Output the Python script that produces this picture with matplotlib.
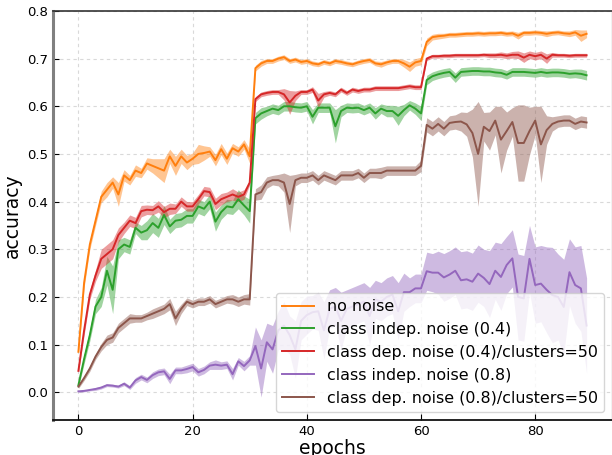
import numpy as np
import matplotlib
matplotlib.use("Agg")
import matplotlib.pyplot as plt

epochs = list(range(90))

no_noise_mean = [0.085, 0.23, 0.31, 0.36, 0.41, 0.425, 0.44, 0.415, 0.455, 0.445,
                 0.465, 0.46, 0.48, 0.475, 0.47, 0.465, 0.495, 0.475, 0.495, 0.482,
                 0.49, 0.50, 0.502, 0.505, 0.487, 0.51, 0.49, 0.512, 0.505, 0.52,
                 0.495, 0.68, 0.69, 0.695, 0.695, 0.70, 0.703, 0.695, 0.698, 0.693,
                 0.695, 0.69, 0.688, 0.693, 0.69, 0.695, 0.693, 0.69, 0.688, 0.692,
                 0.695, 0.697, 0.69, 0.688, 0.692, 0.695, 0.695, 0.69, 0.683, 0.692,
                 0.695, 0.735, 0.745, 0.747, 0.748, 0.75, 0.75, 0.751, 0.752, 0.752,
                 0.753, 0.752, 0.753, 0.753, 0.754, 0.752, 0.753, 0.748, 0.754, 0.754,
                 0.755, 0.754, 0.752, 0.754, 0.755, 0.753, 0.752, 0.755, 0.748, 0.752]
no_noise_std = [0.005, 0.01, 0.01, 0.01, 0.012, 0.015, 0.012, 0.025, 0.012, 0.01,
                0.012, 0.01, 0.012, 0.015, 0.02, 0.025, 0.015, 0.02, 0.015, 0.015,
                0.012, 0.02, 0.015, 0.01, 0.012, 0.012, 0.012, 0.01, 0.01, 0.01,
                0.015, 0.006, 0.006, 0.005, 0.005, 0.005, 0.005, 0.005, 0.005, 0.005,
                0.005, 0.005, 0.005, 0.005, 0.005, 0.005, 0.005, 0.005, 0.005, 0.005,
                0.005, 0.005, 0.005, 0.006, 0.005, 0.005, 0.005, 0.008, 0.01, 0.008,
                0.008, 0.008, 0.006, 0.006, 0.005, 0.005, 0.005, 0.005, 0.005, 0.005,
                0.005, 0.005, 0.005, 0.005, 0.005, 0.005, 0.005, 0.007, 0.005, 0.005,
                0.005, 0.005, 0.006, 0.005, 0.005, 0.005, 0.006, 0.006, 0.012, 0.008]

indep04_mean = [0.015, 0.07, 0.12, 0.18, 0.20, 0.255, 0.215, 0.30, 0.31, 0.305,
                0.345, 0.335, 0.34, 0.355, 0.345, 0.372, 0.348, 0.36, 0.362, 0.37,
                0.37, 0.39, 0.385, 0.40, 0.358, 0.378, 0.39, 0.388, 0.405, 0.392,
                0.38, 0.575, 0.585, 0.59, 0.595, 0.592, 0.60, 0.60, 0.598, 0.597,
                0.60, 0.578, 0.597, 0.597, 0.597, 0.558, 0.59, 0.597, 0.596, 0.597,
                0.592, 0.597, 0.585, 0.595, 0.59, 0.59, 0.58, 0.592, 0.602, 0.595,
                0.585, 0.655, 0.663, 0.667, 0.67, 0.672, 0.66, 0.672, 0.673, 0.674,
                0.674, 0.673, 0.673, 0.671, 0.67, 0.666, 0.672, 0.672, 0.672, 0.671,
                0.67, 0.672, 0.67, 0.671, 0.671, 0.67, 0.668, 0.669, 0.668, 0.665]
indep04_std = [0.005, 0.01, 0.012, 0.015, 0.02, 0.03, 0.05, 0.02, 0.015, 0.015,
               0.012, 0.015, 0.02, 0.02, 0.02, 0.02, 0.015, 0.015, 0.015, 0.015,
               0.015, 0.015, 0.015, 0.015, 0.02, 0.015, 0.015, 0.015, 0.02, 0.02,
               0.025, 0.012, 0.012, 0.01, 0.01, 0.01, 0.01, 0.01, 0.01, 0.01,
               0.01, 0.015, 0.01, 0.01, 0.01, 0.035, 0.012, 0.01, 0.01, 0.01,
               0.01, 0.01, 0.012, 0.01, 0.012, 0.012, 0.02, 0.012, 0.01, 0.012,
               0.015, 0.01, 0.009, 0.009, 0.009, 0.009, 0.01, 0.009, 0.009, 0.009,
               0.009, 0.009, 0.009, 0.009, 0.009, 0.009, 0.009, 0.009, 0.009, 0.009,
               0.009, 0.009, 0.009, 0.009, 0.009, 0.009, 0.009, 0.009, 0.01, 0.01]

dep04_mean = [0.045, 0.13, 0.205, 0.245, 0.28, 0.29, 0.30, 0.33, 0.345, 0.36,
              0.355, 0.38, 0.383, 0.382, 0.39, 0.378, 0.385, 0.385, 0.40, 0.39,
              0.39, 0.405, 0.422, 0.42, 0.395, 0.405, 0.41, 0.415, 0.41, 0.415,
              0.44, 0.615, 0.625, 0.628, 0.63, 0.63, 0.625, 0.608, 0.622, 0.63,
              0.63, 0.635, 0.612, 0.625, 0.628, 0.625, 0.635, 0.628, 0.635, 0.632,
              0.635, 0.635, 0.638, 0.638, 0.638, 0.638, 0.638, 0.64, 0.642, 0.64,
              0.64, 0.70, 0.705, 0.705, 0.706, 0.706, 0.707, 0.707, 0.707, 0.707,
              0.707, 0.708, 0.707, 0.707, 0.708, 0.706, 0.708, 0.708, 0.702, 0.708,
              0.705, 0.708, 0.70, 0.708, 0.707, 0.707, 0.706, 0.707, 0.707, 0.707]
dep04_std = [0.005, 0.01, 0.01, 0.012, 0.02, 0.02, 0.02, 0.015, 0.012, 0.012,
             0.012, 0.012, 0.01, 0.01, 0.012, 0.012, 0.012, 0.01, 0.01, 0.01,
             0.01, 0.01, 0.01, 0.01, 0.012, 0.012, 0.01, 0.012, 0.01, 0.01,
             0.005, 0.005, 0.005, 0.005, 0.005, 0.005, 0.012, 0.025, 0.01, 0.005,
             0.005, 0.006, 0.015, 0.006, 0.005, 0.005, 0.005, 0.005, 0.005, 0.005,
             0.005, 0.005, 0.005, 0.005, 0.005, 0.005, 0.005, 0.005, 0.005, 0.005,
             0.005, 0.004, 0.004, 0.004, 0.004, 0.004, 0.004, 0.004, 0.004, 0.004,
             0.004, 0.004, 0.005, 0.005, 0.006, 0.006, 0.007, 0.008, 0.01, 0.008,
             0.008, 0.008, 0.01, 0.005, 0.004, 0.004, 0.004, 0.004, 0.004, 0.004]

indep08_mean = [0.002, 0.003, 0.005, 0.007, 0.01, 0.015, 0.014, 0.012, 0.018, 0.01,
                0.025, 0.032, 0.026, 0.036, 0.042, 0.044, 0.028, 0.046, 0.046, 0.049,
                0.053, 0.042, 0.047, 0.056, 0.058, 0.056, 0.058, 0.038, 0.065, 0.055,
                0.067, 0.097, 0.05, 0.105, 0.09, 0.13, 0.14, 0.12, 0.09, 0.15,
                0.162, 0.168, 0.17, 0.13, 0.175, 0.18, 0.15, 0.175, 0.18, 0.185,
                0.19, 0.16, 0.195, 0.19, 0.20, 0.205, 0.17, 0.21, 0.21, 0.218,
                0.218, 0.254, 0.251, 0.251, 0.241, 0.247, 0.255, 0.235, 0.237, 0.232,
                0.249, 0.24, 0.227, 0.255, 0.242, 0.267, 0.281, 0.20, 0.197, 0.28,
                0.225, 0.228, 0.215, 0.204, 0.20, 0.179, 0.252, 0.225, 0.218, 0.14]
indep08_std = [0.002, 0.002, 0.002, 0.003, 0.003, 0.003, 0.003, 0.003, 0.004, 0.004,
               0.006, 0.006, 0.006, 0.007, 0.007, 0.007, 0.01, 0.007, 0.007, 0.008,
               0.008, 0.008, 0.008, 0.008, 0.01, 0.008, 0.008, 0.012, 0.008, 0.01,
               0.01, 0.04, 0.06, 0.04, 0.05, 0.04, 0.05, 0.04, 0.06, 0.04,
               0.04, 0.035, 0.04, 0.06, 0.04, 0.04, 0.06, 0.04, 0.04, 0.04,
               0.04, 0.06, 0.04, 0.04, 0.04, 0.04, 0.06, 0.04, 0.03, 0.03,
               0.03, 0.04, 0.04, 0.045, 0.05, 0.05, 0.05, 0.06, 0.06, 0.06,
               0.06, 0.06, 0.07, 0.06, 0.07, 0.06, 0.06, 0.09, 0.09, 0.07,
               0.08, 0.08, 0.09, 0.1, 0.09, 0.1, 0.07, 0.08, 0.09, 0.1]

dep08_mean = [0.012, 0.03, 0.05, 0.075, 0.095, 0.11, 0.115, 0.135, 0.145, 0.155,
              0.155, 0.155, 0.16, 0.165, 0.17, 0.175, 0.185, 0.155, 0.175, 0.19,
              0.185, 0.19, 0.19, 0.195, 0.185, 0.19, 0.195, 0.195, 0.19, 0.195,
              0.195, 0.415, 0.42, 0.44, 0.445, 0.445, 0.44, 0.395, 0.445, 0.45,
              0.45, 0.455, 0.445, 0.455, 0.45, 0.445, 0.455, 0.455, 0.455, 0.46,
              0.45, 0.46, 0.46, 0.46, 0.465, 0.465, 0.465, 0.465, 0.465, 0.465,
              0.475, 0.561, 0.553, 0.563, 0.553, 0.565, 0.567, 0.568, 0.562, 0.544,
              0.50, 0.557, 0.548, 0.57, 0.53, 0.548, 0.567, 0.523, 0.523, 0.548,
              0.57, 0.52, 0.55, 0.563, 0.568, 0.57, 0.57, 0.563, 0.568, 0.566]
dep08_std = [0.004, 0.005, 0.006, 0.006, 0.008, 0.01, 0.01, 0.01, 0.01, 0.01,
             0.008, 0.008, 0.008, 0.01, 0.01, 0.01, 0.012, 0.015, 0.01, 0.008,
             0.008, 0.008, 0.008, 0.008, 0.008, 0.008, 0.008, 0.01, 0.01, 0.01,
             0.012, 0.012, 0.015, 0.012, 0.01, 0.012, 0.02, 0.06, 0.012, 0.01,
             0.01, 0.01, 0.01, 0.01, 0.01, 0.01, 0.01, 0.01, 0.01, 0.01,
             0.01, 0.01, 0.01, 0.012, 0.01, 0.01, 0.01, 0.01, 0.01, 0.01,
             0.012, 0.015, 0.015, 0.015, 0.015, 0.015, 0.015, 0.02, 0.025, 0.05,
             0.11, 0.03, 0.04, 0.03, 0.07, 0.04, 0.03, 0.08, 0.08, 0.05,
             0.03, 0.08, 0.03, 0.015, 0.012, 0.012, 0.012, 0.012, 0.012, 0.012]

labels = ["no noise", "class indep. noise (0.4)", "class dep. noise (0.4)/clusters=50",
          "class indep. noise (0.8)", "class dep. noise (0.8)/clusters=50"]
colors = ["tab:orange", "tab:green", "tab:red", "tab:purple", "tab:brown"]
means = [no_noise_mean, indep04_mean, dep04_mean, indep08_mean, dep08_mean]
stds = [no_noise_std, indep04_std, dep04_std, indep08_std, dep08_std]

fig = plt.figure(figsize=(6.12, 4.55), dpi=100)
ax = fig.add_axes([0.0866, 0.077, 0.9134, 0.899])

x = np.array(epochs)
for lab, col, m, s in zip(labels, colors, means, stds):
    m = np.array(m)
    s = np.array(s)
    ax.fill_between(x, m - s, m + s, color=col, alpha=0.45, linewidth=0)
    ax.plot(x, m, color=col, linewidth=1.4, label=lab)

ax.set_xlim(-4.45, 93.45)
ax.set_ylim(-0.058, 0.8)
ax.set_xticks([0, 20, 40, 60, 80])
ax.set_yticks([0.0, 0.1, 0.2, 0.3, 0.4, 0.5, 0.6, 0.7, 0.8])
ax.set_yticklabels(["0.0", "0.1", "0.2", "0.3", "0.4", "0.5", "0.6", "0.7", "0.8"])
ax.tick_params(direction="in", labelsize=9.5, length=4)
ax.grid(True, linestyle=(0, (3, 3)), color="#d9d9d9", linewidth=0.8)
ax.set_axisbelow(True)
ax.spines["left"].set_color("#808080")
ax.spines["left"].set_linewidth(2.2)
ax.spines["bottom"].set_color("#111111")
ax.spines["bottom"].set_linewidth(1.3)
ax.spines["top"].set_color("#333333")
ax.spines["top"].set_linewidth(1.2)
ax.set_xlabel("epochs", fontsize=13.5, labelpad=1)
ax.set_ylabel("accuracy", fontsize=13.5, labelpad=4)
ax.legend(loc="lower right", fontsize=11.4)

fig.savefig("out.png", dpi=100)
